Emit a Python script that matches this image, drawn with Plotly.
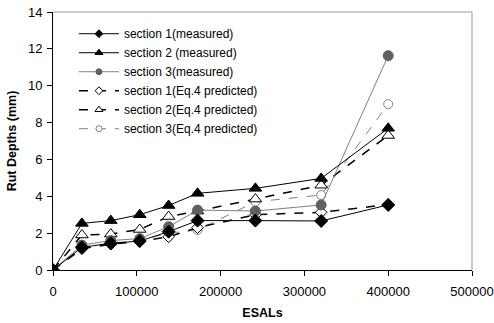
import plotly.graph_objects as go

esals = [0, 34500, 69000, 103500, 138000, 172500, 241500, 320000, 400000]
s1_meas = [0, 1.23, 1.45, 1.57, 2.08, 2.68, 2.68, 2.66, 3.53]
s2_meas = [0, 2.53, 2.68, 3.0, 3.5, 4.16, 4.43, 4.97, 7.69]
s3_meas = [0, 1.35, 1.6, 1.7, 2.35, 3.25, 3.2, 3.53, 11.63]
s1_pred = [0, 1.15, 1.4, 1.55, 1.8, 2.3, 3.0, 3.13, 3.55]
s2_pred = [0, 1.9, 1.95, 2.2, 2.9, 3.2, 3.85, 4.6, 7.3]
s3_pred = [0, 1.25, 1.45, 1.6, 2.0, 2.17, 3.7, 4.07, 9.0]

names = ["section 1(measured)", "section 2 (measured)", "section 3(measured)",
         "section 1(Eq.4 predicted)", "section 2(Eq.4 predicted)", "section 3(Eq.4 predicted)"]

fig = go.Figure()

def add(y, name, rank, lcolor, lw, dash, symbol, mfill, mline, msize, lsize):
    fig.add_trace(go.Scatter(
        x=esals, y=y, name=name, mode="lines+markers", showlegend=False,
        line=dict(color=lcolor, width=lw, dash=dash),
        marker=dict(symbol=symbol, color=mfill, size=msize,
                    line=dict(color=mline, width=1)),
    ))
    # legend-only entry with smaller marker, as in the original legend
    fig.add_trace(go.Scatter(
        x=[None], y=[None], name=name, mode="lines+markers", legendrank=rank,
        line=dict(color=lcolor, width=lw, dash=dash),
        marker=dict(symbol=symbol, color=mfill, size=lsize,
                    line=dict(color=mline, width=1)),
    ))

# order of drawing: predicted first so measured on top
add(s3_pred, names[5], 5, "#808080", 1, "dash", "circle", "white", "#808080", 9, 6)
add(s1_pred, names[3], 3, "black", 1.5, "dash", "diamond", "white", "black", 9, 6)
add(s2_pred, names[4], 4, "black", 1.5, "dash", "triangle-up", "white", "black", 11, 7)
add(s3_meas, names[2], 2, "#808080", 1, "solid", "circle", "#606060", "#606060", 10, 6)
add(s1_meas, names[0], 0, "black", 1, "solid", "diamond", "black", "black", 10, 6)
add(s2_meas, names[1], 1, "black", 1, "solid", "triangle-up", "black", "black", 11, 7)

fig.update_layout(
    width=494, height=323,
    margin=dict(l=53, r=22, t=12, b=53),
    paper_bgcolor="white", plot_bgcolor="white",
    font=dict(family="Liberation Sans, Arial", size=13, color="black"),
    showlegend=True,
    legend=dict(
        x=0.05, y=0.972, xanchor="left", yanchor="top",
        bgcolor="rgba(0,0,0,0)", font=dict(size=12),
        traceorder="normal", itemwidth=40, tracegroupgap=0,
    ),
    xaxis=dict(
        range=[0, 500000], dtick=100000, tick0=0, tickformat="d",
        showgrid=False, zeroline=False, showline=True, linecolor="black",
        linewidth=1, ticks="outside", ticklen=5, tickcolor="black",
        ticklabelstandoff=4, automargin=False,
        title=dict(text="<b>ESALs</b>", font=dict(size=12.5), standoff=10),
    ),
    yaxis=dict(
        range=[0, 14], dtick=2, tick0=0,
        showgrid=False, zeroline=False, showline=True, linecolor="black",
        linewidth=1, ticks="outside", ticklen=5, tickcolor="black",
        ticklabelstandoff=2, automargin=False,
        title=dict(text="<b>Rut Depths (mm)</b>", font=dict(size=12.5), standoff=8),
    ),
)

# gray border on top and right
fig.add_shape(type="line", xref="paper", yref="paper", x0=0, x1=1, y0=1, y1=1,
              line=dict(color="#999999", width=1))
fig.add_shape(type="line", xref="paper", yref="paper", x0=1, x1=1, y0=0, y1=1,
              line=dict(color="#999999", width=1))

fig.write_html("out.html")
